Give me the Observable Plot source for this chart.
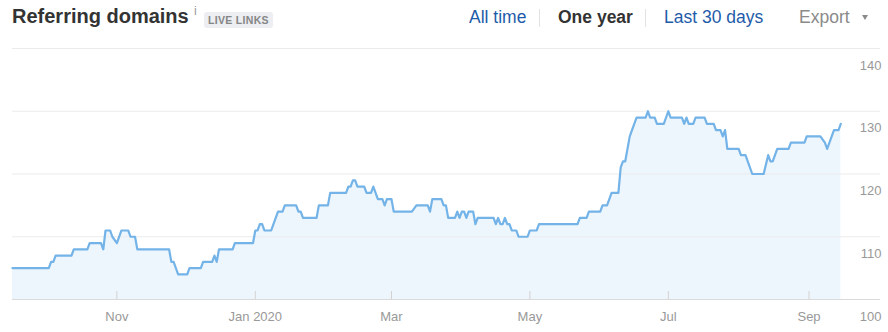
<!DOCTYPE html>
<html>
<head>
<meta charset="utf-8">
<script src="https://cdn.jsdelivr.net/npm/d3@7"></script>
<script src="https://cdn.jsdelivr.net/npm/@observablehq/plot@0.6"></script>
<style>
  html, body { margin: 0; padding: 0; background: #fff; }
  body { font-family: "Liberation Sans", Arial, sans-serif; width: 888px; }
  #header { position: relative; width: 888px; height: 40px; }
  #header > * { position: absolute; line-height: 1; white-space: nowrap; }
  .title { left: 12px; top: 6px; font-size: 20px; font-weight: bold; color: #333; }
  .info { left: 194px; top: 5px; font-size: 12.5px; color: #999; }
  .badge { left: 204px; top: 12px; width: 69px; height: 16px; line-height: 16px !important; text-align: center;
           background: #eceef1; border-radius: 3px; font-size: 10.5px; font-weight: bold; color: #868686; letter-spacing: 0.3px; }
  .nav { top: 9.2px; font-size: 17.5px; }
  .link { color: #1e5ca9; }
  .active { color: #333; font-weight: bold; }
  .export { color: #8a8a8a; }
  .sep { top: 9px; width: 1px; height: 18px; background: #e2e2e2; }
  .tri { left: 861.5px; top: 15px; width: 0; height: 0; border-left: 3.5px solid transparent; border-right: 3.5px solid transparent; border-top: 5px solid #8a8a8a; }
  svg { display: block; }
</style>
</head>
<body>
<div id="header">
  <span class="title">Referring domains</span>
  <span class="info">i</span>
  <span class="badge">LIVE LINKS</span>
  <span class="nav link" style="left:469px">All time</span>
  <span class="sep" style="left:539px"></span>
  <span class="nav active" style="left:558px">One year</span>
  <span class="sep" style="left:645px"></span>
  <span class="nav link" style="left:664px">Last 30 days</span>
  <span class="nav export" style="left:799px">Export</span>
  <span class="tri"></span>
</div>
<div id="chart"></div>
<script>
const dates = [
  "2019-09-16","2019-10-02","2019-10-03","2019-10-04","2019-10-05","2019-10-12","2019-10-13","2019-10-19",
  "2019-10-20","2019-10-25","2019-10-26","2019-10-27","2019-10-29","2019-10-30","2019-11-01","2019-11-03",
  "2019-11-06","2019-11-07","2019-11-09","2019-11-10","2019-11-24","2019-11-25","2019-11-26","2019-11-28",
  "2019-12-02","2019-12-03","2019-12-08","2019-12-09","2019-12-13","2019-12-14","2019-12-15","2019-12-16",
  "2019-12-22","2019-12-23","2019-12-31","2020-01-01","2020-01-02","2020-01-03","2020-01-04","2020-01-05",
  "2020-01-08","2020-01-11","2020-01-13","2020-01-14","2020-01-19","2020-01-20","2020-01-21","2020-01-22",
  "2020-01-28","2020-01-29","2020-02-02","2020-02-03","2020-02-10","2020-02-11","2020-02-12","2020-02-13",
  "2020-02-14","2020-02-15","2020-02-18","2020-02-19","2020-02-21","2020-02-22","2020-02-23","2020-02-24",
  "2020-02-26","2020-02-27","2020-02-28","2020-03-01","2020-03-02","2020-03-10","2020-03-12","2020-03-17",
  "2020-03-18","2020-03-19","2020-03-23","2020-03-24","2020-03-25","2020-03-26","2020-03-29","2020-03-30",
  "2020-03-31","2020-04-01","2020-04-02","2020-04-03","2020-04-04","2020-04-06","2020-04-07","2020-04-08",
  "2020-04-15","2020-04-16","2020-04-17","2020-04-18","2020-04-19","2020-04-20","2020-04-21","2020-04-22",
  "2020-04-23","2020-04-25","2020-04-26","2020-04-30","2020-05-01","2020-05-04","2020-05-05","2020-05-22",
  "2020-05-23","2020-05-26","2020-05-27","2020-06-01","2020-06-02","2020-06-04","2020-06-06","2020-06-09",
  "2020-06-10","2020-06-11","2020-06-12","2020-06-14","2020-06-15","2020-06-17","2020-06-21","2020-06-22",
  "2020-06-23","2020-06-25","2020-06-26","2020-06-29","2020-07-01","2020-07-02","2020-07-07","2020-07-08",
  "2020-07-09","2020-07-10","2020-07-12","2020-07-13","2020-07-17","2020-07-18","2020-07-21","2020-07-22",
  "2020-07-24","2020-07-25","2020-07-26","2020-07-27","2020-08-01","2020-08-02","2020-08-04","2020-08-07",
  "2020-08-12","2020-08-14","2020-08-15","2020-08-16","2020-08-18","2020-08-23","2020-08-24","2020-08-30",
  "2020-08-31","2020-09-06","2020-09-08","2020-09-09","2020-09-10","2020-09-12","2020-09-14","2020-09-15"
];
const values = [
  105,105,106,106,107,107,108,108,
  109,109,108,111,111,110,109,111,
  111,110,110,108,108,106,106,104,
  104,105,105,106,106,107,106,108,
  108,109,109,111,111,112,112,111,
  111,114,114,115,115,114,114,113,
  113,115,115,117,117,118,118,119,
  119,118,118,117,117,118,117,116,
  116,115,116,116,114,114,115,115,
  114,116,116,115,115,113,113,114,
  113,114,114,113,114,114,112,113,
  113,112,113,112,112,113,112,112,
  111,111,110,110,111,111,112,112,
  113,113,114,114,115,115,117,117,
  121,122,122,126,127,129,129,130,
  129,129,128,128,130,129,129,128,
  129,128,128,129,129,128,128,127,
  127,126,127,124,124,123,123,120,
  120,123,122,122,124,124,125,125,
  126,126,125,124,125,127,127,128
];
const xTickDates = ["2019-11-01","2020-01-01","2020-03-01","2020-05-01","2020-07-01","2020-09-01"];
const xTickLabels = ["Nov","Jan 2020","Mar","May","Jul","Sep"];
const yTicks = [100, 110, 120, 130, 140];

const data = dates.map((d, i) => ({date: new Date(d), value: values[i]}));
const xTicks = xTickDates.map(d => new Date(d));
const gridTicks = yTicks.filter(v => v > yTicks[0]);

const chart = Plot.plot({
  width: 888,
  height: 292,
  marginLeft: 12,
  marginRight: 8,
  marginTop: 8,
  marginBottom: 33,
  x: {type: "utc", domain: [new Date("2019-09-16"), new Date("2020-10-02T12:00:00Z")], axis: null},
  y: {domain: [yTicks[0], yTicks[yTicks.length - 1]], axis: null},
  style: {fontFamily: '"Liberation Sans", Arial, sans-serif', background: "transparent", overflow: "visible"},
  marks: [
    Plot.areaY(data, {x: "date", y1: yTicks[0], y2: "value", fill: "#eef6fd"}),
    Plot.ruleY(gridTicks, {stroke: "#ebebeb", strokeWidth: 1}),
    Plot.ruleY([yTicks[0]], {stroke: "#dadada", strokeWidth: 1}),
    Plot.ruleX(xTicks, {x: d => d, y1: yTicks[0], y2: yTicks[0], insetTop: -8, stroke: "#d2d2d2"}),
    Plot.lineY(data, {x: "date", y: "value", stroke: "#73b3e7", strokeWidth: 2.2, strokeLinejoin: "round"}),
    Plot.text(xTicks, {x: d => d, text: (d, i) => xTickLabels[i], frameAnchor: "bottom", lineAnchor: "bottom", dy: 21, fill: "#999", fontSize: 13}),
    Plot.text(yTicks, {y: d => d, text: d => String(d), frameAnchor: "right", textAnchor: "end", lineAnchor: "bottom", dx: 1, dy: 21, fill: "#999", fontSize: 13})
  ]
});
document.getElementById("chart").appendChild(chart);
</script>
</body>
</html>
